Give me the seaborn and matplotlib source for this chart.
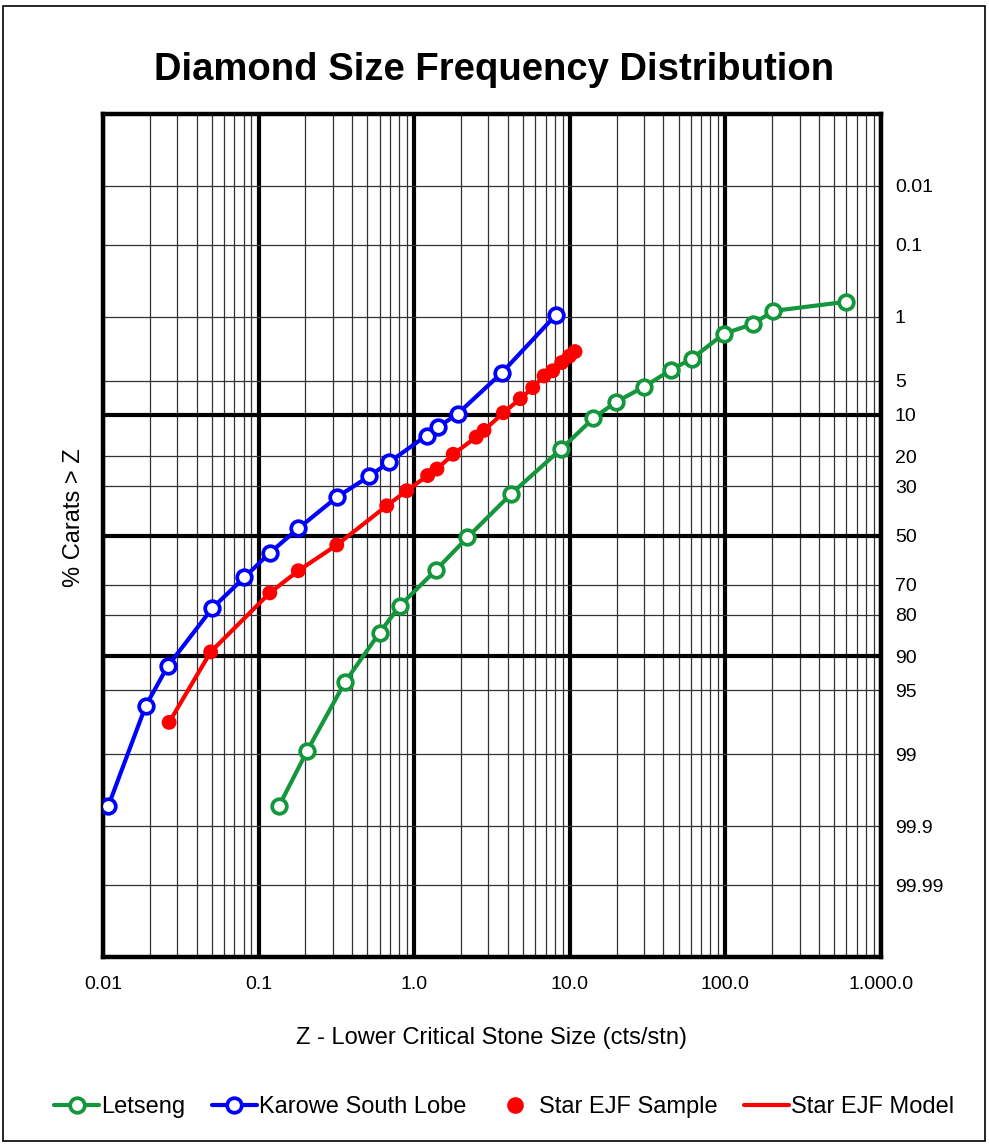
import math
from statistics import NormalDist

import numpy as np
import matplotlib
matplotlib.use("Agg")
import matplotlib.pyplot as plt
from matplotlib.lines import Line2D
from matplotlib.patches import Rectangle
from matplotlib.ticker import FixedLocator, LogLocator, NullFormatter
import seaborn as sns

# ---------- data ----------
# stone size Z (cts/stn) and % carats > Z

letseng_z = [0.135, 0.205, 0.36, 0.60, 0.81, 1.38, 2.2, 4.2, 8.8, 14.2,
             19.8, 30.0, 45.0, 61.0, 98.0, 150.0, 203.0, 596.0]
letseng_pct = [99.8, 98.9, 94.0, 84.9, 77.2, 64.3, 50.8, 32.9, 17.9, 10.6,
               7.8, 5.7, 3.9, 3.0, 1.6, 1.23, 0.85, 0.65]

karowe_z = [0.0108, 0.0188, 0.026, 0.0504, 0.081, 0.118, 0.18, 0.318, 0.515,
            0.69, 1.2, 1.42, 1.9, 3.65, 8.15]
karowe_pct = [99.8, 96.5, 91.8, 78.0, 67.2, 57.3, 47.0, 34.2, 26.4,
              21.8, 14.4, 12.5, 9.8, 4.2, 0.95]

ejf_sample_z = [0.0266, 0.0492, 0.118, 0.18, 0.318, 0.666, 0.895, 1.22, 1.40,
                1.78, 2.50, 2.81, 3.74, 4.81, 5.78, 6.83, 7.76, 8.87, 9.93, 10.8]
ejf_sample_pct = [97.65, 89.2, 72.9, 64.6, 54.0, 37.6, 31.7, 26.2, 24.0,
                  19.4, 14.8, 13.2, 9.6, 7.3, 5.8, 4.5, 4.0, 3.3, 2.83, 2.53]

# model curve follows the sample points
ejf_model_z = ejf_sample_z
ejf_model_pct = ejf_sample_pct

x_ticks = [0.01, 0.1, 1, 10, 100, 1000]
x_tick_labels = ["0.01", "0.1", "1.0", "10.0", "100.0", "1.000.0"]
y_ticks = [0.01, 0.1, 1, 5, 10, 20, 30, 50, 70, 80, 90, 95, 99, 99.9, 99.99]
y_tick_labels = ["0.01", "0.1", "1", "5", "10", "20", "30", "50", "70", "80",
                 "90", "95", "99", "99.9", "99.99"]
y_heavy = [10, 50, 90]

GREEN = "#14963c"
BLUE = "#0000ff"
RED = "#ff0000"

# ---------- probability scale ----------
_nd = NormalDist()
_ppf = np.vectorize(lambda v: _nd.inv_cdf(v), otypes=[float])
_erf = np.vectorize(math.erf, otypes=[float])


def _fwd(p):
    p = np.clip(np.asarray(p, dtype=float), 1e-10, 100 - 1e-10)
    return _ppf(p / 100.0)


def _inv(z):
    z = np.asarray(z, dtype=float)
    return 50.0 * (1.0 + _erf(z / math.sqrt(2.0)))


# ---------- style ----------
sns.set_theme(style="white")
plt.rcParams["font.family"] = ["Liberation Sans", "DejaVu Sans"]
for key in ("text.color", "axes.labelcolor", "xtick.color", "ytick.color"):
    plt.rcParams[key] = "black"

fig = plt.figure(figsize=(9.89, 11.45), dpi=100)
ax = fig.add_axes([103 / 989, 1 - 957 / 1145, 778 / 989, 843 / 1145])

ax.set_xscale("log")
ax.set_yscale("function", functions=(_fwd, _inv))
ax.set_xlim(0.01, 1000)
ax.set_ylim(float(_inv(4.48)), float(_inv(-4.48)))

# grid
ax.set_axisbelow(True)
ax.xaxis.set_major_locator(FixedLocator(x_ticks))
ax.xaxis.set_minor_locator(LogLocator(base=10, subs=np.arange(2, 10)))
ax.xaxis.set_minor_formatter(NullFormatter())
ax.set_xticklabels(x_tick_labels)
ax.grid(which="major", axis="x", color="black", lw=3.0)
ax.grid(which="minor", axis="x", color="#333333", lw=0.9)

ax.yaxis.set_major_locator(FixedLocator(y_ticks))
ax.yaxis.set_minor_locator(FixedLocator([]))
ax.set_yticklabels(y_tick_labels)
ax.grid(which="major", axis="y", color="#333333", lw=0.9)
for yv in y_heavy:
    ax.axhline(yv, color="black", lw=3.0, zorder=1)

ax.yaxis.tick_right()
ax.tick_params(axis="both", which="both", length=0)
ax.tick_params(axis="x", pad=14, labelsize=14)
ax.tick_params(axis="y", pad=10, labelsize=14)
for lab in ax.get_yticklabels():
    lab.set_horizontalalignment("left")

for sp in ax.spines.values():
    sp.set_visible(True)
    sp.set_color("black")
    sp.set_linewidth(3.2)

# ---------- series ----------
sns.lineplot(x=letseng_z, y=letseng_pct, ax=ax, color=GREEN, lw=3,
             marker="o", ms=10.5, mfc="white", mec=GREEN, mew=2.7,
             sort=False, zorder=3)
sns.lineplot(x=karowe_z, y=karowe_pct, ax=ax, color=BLUE, lw=3,
             marker="o", ms=10.5, mfc="white", mec=BLUE, mew=2.7,
             sort=False, zorder=3)
sns.lineplot(x=ejf_model_z, y=ejf_model_pct, ax=ax, color=RED, lw=3,
             sort=False, zorder=3)
sns.scatterplot(x=ejf_sample_z, y=ejf_sample_pct, ax=ax, color=RED, s=115,
                edgecolor="none", zorder=4)

ax.set_xlabel("Z - Lower Critical Stone Size (cts/stn)", fontsize=17, labelpad=24)
ax.set_ylabel("% Carats > Z", fontsize=17)
ax.yaxis.set_label_position("left")
ax.yaxis.set_label_coords(-0.023, 0.521)

# ---------- title, legend, frame ----------
fig.text(0.5, 1 - 70 / 1145, "Diamond Size Frequency Distribution",
         ha="center", va="center", fontsize=27.5, fontweight="bold")

handles = [
    Line2D([], [], color=GREEN, lw=3, marker="o", ms=10.5, mfc="white", mec=GREEN, mew=2.7),
    Line2D([], [], color=BLUE, lw=3, marker="o", ms=10.5, mfc="white", mec=BLUE, mew=2.7),
    Line2D([], [], color=RED, lw=0, marker="o", ms=12, mec="none"),
    Line2D([], [], color=RED, lw=3),
]
labels = ["Letseng", "Karowe South Lobe", "Star EJF Sample", "Star EJF Model"]
fig.legend(handles, labels, loc="center", bbox_to_anchor=(0.51, 1 - 1107 / 1145),
           ncol=4, frameon=False, fontsize=17, handlelength=1.9,
           handletextpad=0.1, columnspacing=1.1)

fig.patches.append(Rectangle((3 / 989, 4 / 1145), 982 / 989, 1135 / 1145,
                             transform=fig.transFigure, fill=False,
                             edgecolor="black", lw=1.2))

fig.savefig("out.png", dpi=100)
plt.close(fig)
